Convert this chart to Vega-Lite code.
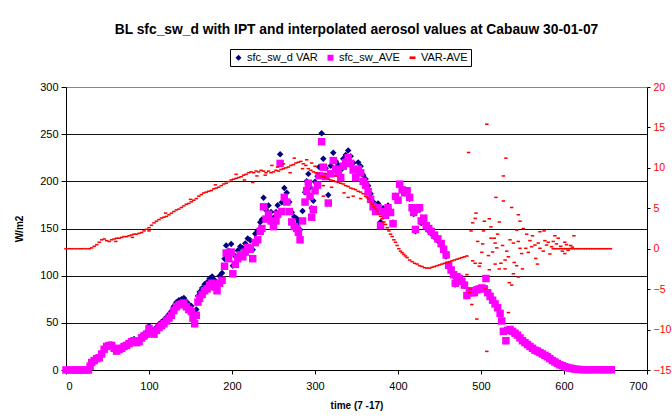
{
"$schema": "https://vega.github.io/schema/vega-lite/v6.json",
"width": 581, "height": 283,
"autosize": {"type": "none"},
"padding": {"left": 66, "top": 87, "right": 25, "bottom": 49},
"background": "white",
"config": {
  "font": "Liberation Sans",
  "view": {"stroke": null},
  "axis": {"labelFont": "Liberation Sans", "titleFont": "Liberation Sans", "labelFontSize": 11, "labelColor": "black", "titleColor": "black", "domainColor": "black", "tickColor": "black", "titleFontSize": 10, "titleFontWeight": "bold", "domainWidth": 1, "tickWidth": 1}
},
"title": {"text": "BL sfc_sw_d with IPT and interpolated aerosol values at Cabauw 30-01-07", "fontSize": 13.8, "fontWeight": "bold", "font": "Liberation Sans", "color": "black", "anchor": "middle", "offset": 12},
"datasets": {
"sw": [
{"t":0,"VAR":0,"AVE":0},{"t":4,"VAR":0,"AVE":0},{"t":8,"VAR":0,"AVE":0},{"t":12,"VAR":0,"AVE":0},{"t":16,"VAR":0,"AVE":0},{"t":20,"VAR":0,"AVE":0},{"t":24,"VAR":0,"AVE":0},{"t":27,"VAR":0,"AVE":0},
{"t":29,"VAR":4,"AVE":4},{"t":31,"VAR":8,"AVE":8},{"t":34,"VAR":10,"AVE":10},{"t":37,"VAR":12.5,"AVE":12},{"t":40,"VAR":13.7,"AVE":13},{"t":43,"VAR":17.8,"AVE":17},{"t":46,"VAR":22.9,"AVE":22},{"t":49,"VAR":26,"AVE":25},
{"t":52,"VAR":27,"AVE":26},{"t":55,"VAR":27,"AVE":26},{"t":58,"VAR":24,"AVE":23},{"t":61,"VAR":21,"AVE":20},{"t":64,"VAR":23.3,"AVE":22},{"t":67,"VAR":24.4,"AVE":23},{"t":70,"VAR":26.5,"AVE":25},{"t":73,"VAR":27.5,"AVE":26},
{"t":76,"VAR":29.6,"AVE":28},{"t":79,"VAR":31.7,"AVE":30},{"t":82,"VAR":32.8,"AVE":31},{"t":85,"VAR":30.8,"AVE":29},{"t":88,"VAR":31.9,"AVE":30},{"t":91,"VAR":36,"AVE":34},{"t":94,"VAR":38.2,"AVE":36},{"t":97,"VAR":40.4,"AVE":38},
{"t":100,"VAR":46.6,"AVE":44},{"t":103,"VAR":42.9,"AVE":40},{"t":106,"VAR":41.2,"AVE":38},{"t":109,"VAR":45.4,"AVE":42},{"t":112,"VAR":48.6,"AVE":45},{"t":115,"VAR":50.8,"AVE":47},{"t":118,"VAR":52.9,"AVE":49},{"t":121,"VAR":56,"AVE":52},
{"t":124,"VAR":59.2,"AVE":55},{"t":127,"VAR":62.4,"AVE":58},{"t":130,"VAR":67.6,"AVE":63},{"t":133,"VAR":71.8,"AVE":67},{"t":136,"VAR":73.9,"AVE":69},{"t":139,"VAR":75.1,"AVE":70},{"t":142,"VAR":76.3,"AVE":71},{"t":145,"VAR":72.5,"AVE":67},
{"t":148,"VAR":69.6,"AVE":64},{"t":151,"VAR":67.8,"AVE":62},{"t":153,"VAR":60.9,"AVE":55},{"t":155,"VAR":55,"AVE":49},{"t":157,"VAR":64.2,"AVE":58},{"t":159,"VAR":78.4,"AVE":72},{"t":161,"VAR":82.6,"AVE":76},{"t":164,"VAR":86.8,"AVE":80},
{"t":167,"VAR":90.9,"AVE":84},{"t":170,"VAR":93,"AVE":86},{"t":173,"VAR":97.1,"AVE":90},{"t":176,"VAR":99.2,"AVE":92},{"t":179,"VAR":95.4,"AVE":88},{"t":182,"VAR":91.5,"AVE":84},{"t":185,"VAR":99.6,"AVE":92},{"t":188,"VAR":102.8,"AVE":95},
{"t":191,"VAR":118,"AVE":110},{"t":193,"VAR":132.1,"AVE":124},{"t":196,"VAR":126.3,"AVE":118},{"t":199,"VAR":133.5,"AVE":125},{"t":201,"VAR":110.6,"AVE":102},{"t":204,"VAR":120.7,"AVE":112},{"t":207,"VAR":126.8,"AVE":118},{"t":210,"VAR":130.9,"AVE":122},
{"t":213,"VAR":129.1,"AVE":120},{"t":216,"VAR":134.2,"AVE":125},{"t":219,"VAR":139.4,"AVE":130},{"t":222,"VAR":137.5,"AVE":128},{"t":225,"VAR":127.5,"AVE":118},{"t":228,"VAR":144.5,"AVE":135},{"t":231,"VAR":147.6,"AVE":138},{"t":234,"VAR":156.6,"AVE":147},
{"t":236,"VAR":159.6,"AVE":150},{"t":238,"VAR":182.6,"AVE":173},{"t":241,"VAR":169.6,"AVE":160},{"t":244,"VAR":174.5,"AVE":165},{"t":247,"VAR":167.5,"AVE":158},{"t":250,"VAR":161.5,"AVE":152},{"t":253,"VAR":167.6,"AVE":158},{"t":255,"VAR":174.6,"AVE":165},
{"t":258,"VAR":228.7,"AVE":219},{"t":260,"VAR":177.8,"AVE":168},{"t":263,"VAR":192.9,"AVE":183},{"t":266,"VAR":188,"AVE":178},{"t":269,"VAR":178.1,"AVE":168},{"t":272,"VAR":167.3,"AVE":157},{"t":275,"VAR":162.4,"AVE":152},{"t":278,"VAR":160.5,"AVE":150},
{"t":280,"VAR":156.6,"AVE":146},{"t":282,"VAR":148.7,"AVE":138},{"t":285,"VAR":168.6,"AVE":158},{"t":288,"VAR":188.5,"AVE":178},{"t":290,"VAR":200.2,"AVE":190},{"t":292,"VAR":207.9,"AVE":198},{"t":294,"VAR":193.7,"AVE":184},{"t":296,"VAR":171.6,"AVE":162},
{"t":298,"VAR":179.5,"AVE":170},{"t":300,"VAR":199.5,"AVE":190},{"t":303,"VAR":205.3,"AVE":196},{"t":305,"VAR":215.2,"AVE":206},{"t":308,"VAR":251,"AVE":242},{"t":310,"VAR":223.9,"AVE":215},{"t":313,"VAR":213.8,"AVE":205},{"t":316,"VAR":185.6,"AVE":177},
{"t":319,"VAR":216.5,"AVE":208},{"t":322,"VAR":230.4,"AVE":222},{"t":325,"VAR":221.3,"AVE":213},{"t":328,"VAR":217.2,"AVE":209},{"t":331,"VAR":212.1,"AVE":204},{"t":334,"VAR":224,"AVE":216},{"t":337,"VAR":227.8,"AVE":220},{"t":340,"VAR":232.7,"AVE":225},
{"t":343,"VAR":226.5,"AVE":219},{"t":346,"VAR":219.4,"AVE":212},{"t":349,"VAR":211.3,"AVE":204},{"t":352,"VAR":220.1,"AVE":213},{"t":355,"VAR":216,"AVE":209},{"t":358,"VAR":206.8,"AVE":200},{"t":361,"VAR":202.5,"AVE":196},{"t":364,"VAR":195.2,"AVE":189},
{"t":367,"VAR":186.8,"AVE":181},{"t":370,"VAR":178.4,"AVE":173},{"t":373,"VAR":172.9,"AVE":168},{"t":376,"VAR":176.4,"AVE":172},{"t":379,"VAR":157,"AVE":153},{"t":382,"VAR":171.5,"AVE":168},{"t":385,"VAR":167,"AVE":164},{"t":388,"VAR":174.4,"AVE":172},
{"t":391,"VAR":168.8,"AVE":167},{"t":394,"VAR":156.3,"AVE":155},{"t":397,"VAR":184.8,"AVE":184},{"t":400,"VAR":180.2,"AVE":180},{"t":402,"VAR":196.8,"AVE":197},{"t":405,"VAR":190.5,"AVE":191},{"t":408,"VAR":187.2,"AVE":188},{"t":411,"VAR":188.9,"AVE":190},
{"t":414,"VAR":181.6,"AVE":183},{"t":417,"VAR":170.4,"AVE":172},{"t":419,"VAR":165.3,"AVE":167},{"t":421,"VAR":147.2,"AVE":149},{"t":423,"VAR":169.1,"AVE":171},{"t":426,"VAR":169.9,"AVE":172},{"t":428,"VAR":155.8,"AVE":158},{"t":431,"VAR":158.7,"AVE":161},
{"t":434,"VAR":150.6,"AVE":153},{"t":437,"VAR":147.6,"AVE":150},{"t":440,"VAR":144.7,"AVE":147},{"t":444,"VAR":140.8,"AVE":143},{"t":448,"VAR":137,"AVE":139},{"t":452,"VAR":132.1,"AVE":134},{"t":455,"VAR":126.2,"AVE":128},{"t":458,"VAR":120.3,"AVE":122},
{"t":461,"VAR":109.4,"AVE":111},{"t":464,"VAR":104.5,"AVE":106},{"t":467,"VAR":99.6,"AVE":101},{"t":469,"VAR":90.6,"AVE":92},{"t":471,"VAR":97.7,"AVE":99},{"t":474,"VAR":95.8,"AVE":97},{"t":477,"VAR":92.9,"AVE":94},{"t":480,"VAR":89,"AVE":90},
{"t":483,"VAR":78.1,"AVE":79},{"t":486,"VAR":83.5,"AVE":84},{"t":489,"VAR":81,"AVE":82},{"t":492,"VAR":82.5,"AVE":82},{"t":495,"VAR":84.2,"AVE":85},{"t":498,"VAR":85,"AVE":86},{"t":501,"VAR":86.5,"AVE":87},{"t":504,"VAR":85.5,"AVE":86},
{"t":506,"VAR":96.5,"AVE":97},{"t":508,"VAR":81.2,"AVE":82},{"t":511,"VAR":77.5,"AVE":78},{"t":514,"VAR":73.4,"AVE":74},{"t":517,"VAR":69.5,"AVE":70},{"t":520,"VAR":65.3,"AVE":66},{"t":523,"VAR":59.6,"AVE":60},{"t":525,"VAR":51.7,"AVE":52},
{"t":527,"VAR":40.8,"AVE":41},{"t":530,"VAR":30.5,"AVE":31},{"t":532,"VAR":41.7,"AVE":42},{"t":535,"VAR":42.6,"AVE":43},{"t":538,"VAR":40.5,"AVE":41},{"t":541,"VAR":38.6,"AVE":39},{"t":544,"VAR":36.6,"AVE":37},{"t":547,"VAR":33.7,"AVE":34},
{"t":550,"VAR":30.8,"AVE":31},{"t":553,"VAR":28.8,"AVE":29},{"t":556,"VAR":26.9,"AVE":27},{"t":559,"VAR":24.8,"AVE":25},{"t":562,"VAR":22.9,"AVE":23},{"t":565,"VAR":20.9,"AVE":21},{"t":568,"VAR":19.9,"AVE":20},{"t":571,"VAR":18.4,"AVE":18.5},
{"t":574,"VAR":16.9,"AVE":17},{"t":577,"VAR":15.4,"AVE":15.5},{"t":580,"VAR":13.9,"AVE":14},{"t":583,"VAR":11.9,"AVE":12},{"t":586,"VAR":10,"AVE":10},{"t":589,"VAR":8.5,"AVE":8.5},{"t":592,"VAR":7,"AVE":7},{"t":595,"VAR":5.5,"AVE":5.5},
{"t":598,"VAR":4.5,"AVE":4.5},{"t":601,"VAR":3.5,"AVE":3.5},{"t":604,"VAR":2.7,"AVE":2.7},{"t":607,"VAR":2,"AVE":2},{"t":610,"VAR":1.5,"AVE":1.5},{"t":613,"VAR":1,"AVE":1},{"t":617,"VAR":0.6,"AVE":0.6},{"t":621,"VAR":0.4,"AVE":0.4},
{"t":625,"VAR":0.3,"AVE":0.3},{"t":629,"VAR":0.3,"AVE":0.3},{"t":633,"VAR":0.3,"AVE":0.3},{"t":637,"VAR":0.3,"AVE":0.3},{"t":641,"VAR":0.3,"AVE":0.3},{"t":645,"VAR":0.3,"AVE":0.3},{"t":649,"VAR":0.3,"AVE":0.3},{"t":653,"VAR":0.3,"AVE":0.3},{"t":657,"VAR":0.3,"AVE":0.3}
],
"diff": [
{"t":0,"VAR-AVE":0},{"t":4,"VAR-AVE":0},{"t":8,"VAR-AVE":0},{"t":12,"VAR-AVE":0},{"t":16,"VAR-AVE":0},{"t":20,"VAR-AVE":0},{"t":24,"VAR-AVE":0},{"t":28,"VAR-AVE":0},
{"t":31,"VAR-AVE":0.1},{"t":34,"VAR-AVE":0.3},{"t":37,"VAR-AVE":0.5},{"t":40,"VAR-AVE":0.8},{"t":43,"VAR-AVE":1.1},{"t":46,"VAR-AVE":1.2},{"t":49,"VAR-AVE":1.0},{"t":52,"VAR-AVE":0.9},
{"t":55,"VAR-AVE":1.1},{"t":58,"VAR-AVE":1.2},{"t":61,"VAR-AVE":1.3},{"t":64,"VAR-AVE":1.3},{"t":67,"VAR-AVE":1.4},{"t":70,"VAR-AVE":1.5},{"t":73,"VAR-AVE":1.5},{"t":76,"VAR-AVE":1.6},
{"t":79,"VAR-AVE":1.7},{"t":82,"VAR-AVE":1.8},{"t":85,"VAR-AVE":1.8},{"t":88,"VAR-AVE":1.9},{"t":91,"VAR-AVE":2.0},{"t":94,"VAR-AVE":2.2},{"t":97,"VAR-AVE":2.4},{"t":100,"VAR-AVE":2.6},
{"t":103,"VAR-AVE":2.9},{"t":106,"VAR-AVE":3.2},{"t":109,"VAR-AVE":3.4},{"t":112,"VAR-AVE":3.6},{"t":115,"VAR-AVE":3.8},{"t":118,"VAR-AVE":3.9},{"t":121,"VAR-AVE":4.0},{"t":124,"VAR-AVE":4.2},
{"t":127,"VAR-AVE":4.4},{"t":130,"VAR-AVE":4.6},{"t":133,"VAR-AVE":4.8},{"t":136,"VAR-AVE":4.9},{"t":139,"VAR-AVE":5.1},{"t":142,"VAR-AVE":5.3},{"t":145,"VAR-AVE":5.5},{"t":148,"VAR-AVE":5.6},
{"t":151,"VAR-AVE":5.8},{"t":154,"VAR-AVE":6.0},{"t":157,"VAR-AVE":6.2},{"t":160,"VAR-AVE":6.5},{"t":163,"VAR-AVE":6.7},{"t":166,"VAR-AVE":6.9},{"t":169,"VAR-AVE":7.0},{"t":172,"VAR-AVE":7.1},
{"t":175,"VAR-AVE":7.2},{"t":178,"VAR-AVE":7.4},{"t":181,"VAR-AVE":7.5},{"t":184,"VAR-AVE":7.6},{"t":187,"VAR-AVE":7.8},{"t":190,"VAR-AVE":8.0},{"t":193,"VAR-AVE":8.1},{"t":196,"VAR-AVE":8.3},
{"t":199,"VAR-AVE":8.5},{"t":202,"VAR-AVE":8.6},{"t":205,"VAR-AVE":8.7},{"t":208,"VAR-AVE":8.8},{"t":211,"VAR-AVE":8.9},{"t":214,"VAR-AVE":9.1},{"t":217,"VAR-AVE":9.2},{"t":220,"VAR-AVE":9.4},
{"t":223,"VAR-AVE":9.5},{"t":226,"VAR-AVE":9.4},{"t":229,"VAR-AVE":9.6},{"t":232,"VAR-AVE":9.5},{"t":235,"VAR-AVE":9.7},{"t":238,"VAR-AVE":9.6},{"t":241,"VAR-AVE":9.4},{"t":244,"VAR-AVE":9.6},
{"t":247,"VAR-AVE":9.4},{"t":250,"VAR-AVE":9.5},{"t":253,"VAR-AVE":9.7},{"t":256,"VAR-AVE":9.6},{"t":259,"VAR-AVE":9.8},{"t":262,"VAR-AVE":9.9},{"t":265,"VAR-AVE":10.0},{"t":268,"VAR-AVE":10.1},
{"t":271,"VAR-AVE":10.3},{"t":274,"VAR-AVE":10.4},{"t":277,"VAR-AVE":10.6},{"t":280,"VAR-AVE":10.7},{"t":283,"VAR-AVE":10.8},{"t":286,"VAR-AVE":10.5},{"t":289,"VAR-AVE":10.3},{"t":292,"VAR-AVE":9.9},
{"t":295,"VAR-AVE":9.7},{"t":298,"VAR-AVE":9.5},{"t":301,"VAR-AVE":9.4},{"t":304,"VAR-AVE":9.3},{"t":307,"VAR-AVE":9.0},{"t":310,"VAR-AVE":8.9},{"t":313,"VAR-AVE":8.8},{"t":316,"VAR-AVE":8.6},
{"t":319,"VAR-AVE":8.5},{"t":322,"VAR-AVE":8.4},{"t":325,"VAR-AVE":8.3},{"t":328,"VAR-AVE":8.2},{"t":331,"VAR-AVE":8.1},{"t":334,"VAR-AVE":8.0},{"t":337,"VAR-AVE":7.8},{"t":340,"VAR-AVE":7.7},
{"t":343,"VAR-AVE":7.5},{"t":346,"VAR-AVE":7.4},{"t":349,"VAR-AVE":7.3},{"t":352,"VAR-AVE":7.1},{"t":355,"VAR-AVE":7.0},{"t":358,"VAR-AVE":6.8},{"t":361,"VAR-AVE":6.5},{"t":363,"VAR-AVE":6.3},
{"t":365,"VAR-AVE":6.1},{"t":367,"VAR-AVE":5.8},{"t":369,"VAR-AVE":5.5},{"t":371,"VAR-AVE":5.2},{"t":373,"VAR-AVE":4.9},{"t":375,"VAR-AVE":4.6},{"t":377,"VAR-AVE":4.3},{"t":379,"VAR-AVE":4.0},
{"t":381,"VAR-AVE":3.7},{"t":383,"VAR-AVE":3.3},{"t":385,"VAR-AVE":3.0},{"t":387,"VAR-AVE":2.6},{"t":389,"VAR-AVE":2.2},{"t":391,"VAR-AVE":1.8},{"t":393,"VAR-AVE":1.5},{"t":395,"VAR-AVE":1.1},
{"t":397,"VAR-AVE":0.8},{"t":399,"VAR-AVE":0.4},{"t":401,"VAR-AVE":0.0},{"t":403,"VAR-AVE":-0.3},{"t":405,"VAR-AVE":-0.5},{"t":407,"VAR-AVE":-0.7},{"t":409,"VAR-AVE":-0.9},{"t":411,"VAR-AVE":-1.1},
{"t":414,"VAR-AVE":-1.4},{"t":417,"VAR-AVE":-1.6},{"t":420,"VAR-AVE":-1.8},{"t":423,"VAR-AVE":-1.9},{"t":426,"VAR-AVE":-2.1},{"t":429,"VAR-AVE":-2.2},{"t":432,"VAR-AVE":-2.35},{"t":435,"VAR-AVE":-2.4},
{"t":438,"VAR-AVE":-2.4},{"t":441,"VAR-AVE":-2.3},{"t":444,"VAR-AVE":-2.2},{"t":447,"VAR-AVE":-2.1},{"t":450,"VAR-AVE":-2.0},{"t":453,"VAR-AVE":-1.9},{"t":456,"VAR-AVE":-1.8},{"t":459,"VAR-AVE":-1.7},
{"t":462,"VAR-AVE":-1.6},{"t":465,"VAR-AVE":-1.5},{"t":468,"VAR-AVE":-1.4},{"t":471,"VAR-AVE":-1.3},{"t":474,"VAR-AVE":-1.2},{"t":477,"VAR-AVE":-1.1},{"t":480,"VAR-AVE":-1.0},{"t":483,"VAR-AVE":-0.9},
{"t":225,"VAR-AVE":8.2},{"t":230,"VAR-AVE":9.0},{"t":248,"VAR-AVE":10.3},{"t":262,"VAR-AVE":10.5},{"t":275,"VAR-AVE":11.2},{"t":290,"VAR-AVE":11.0},{"t":296,"VAR-AVE":10.6},{"t":300,"VAR-AVE":10.2},
{"t":310,"VAR-AVE":7.8},{"t":312,"VAR-AVE":9.3},{"t":320,"VAR-AVE":7.6},{"t":325,"VAR-AVE":9.0},{"t":335,"VAR-AVE":6.9},{"t":340,"VAR-AVE":6.35},{"t":346,"VAR-AVE":6.5},{"t":355,"VAR-AVE":6.2},
{"t":310,"VAR-AVE":6.5},{"t":215,"VAR-AVE":8.5},{"t":205,"VAR-AVE":9.2},{"t":180,"VAR-AVE":7.9},{"t":150,"VAR-AVE":6.1},{"t":120,"VAR-AVE":4.4},{"t":100,"VAR-AVE":2.2},{"t":80,"VAR-AVE":1.4},
{"t":60,"VAR-AVE":0.9},{"t":270,"VAR-AVE":9.4},{"t":285,"VAR-AVE":9.9},{"t":240,"VAR-AVE":9.1},{"t":255,"VAR-AVE":10.1},
{"t":507,"VAR-AVE":15.4},{"t":485,"VAR-AVE":11.9},{"t":530,"VAR-AVE":11.2},{"t":527,"VAR-AVE":9.0},{"t":518,"VAR-AVE":6.35},{"t":527,"VAR-AVE":5.9},{"t":537,"VAR-AVE":5.1},{"t":545,"VAR-AVE":4.2},
{"t":494,"VAR-AVE":4.4},{"t":493,"VAR-AVE":3.75},{"t":490,"VAR-AVE":3.2},{"t":510,"VAR-AVE":3.7},{"t":504,"VAR-AVE":3.4},{"t":522,"VAR-AVE":3.3},{"t":547,"VAR-AVE":3.4},{"t":512,"VAR-AVE":2.7},
{"t":488,"VAR-AVE":2.2},{"t":503,"VAR-AVE":2.2},{"t":543,"VAR-AVE":2.3},{"t":551,"VAR-AVE":2.5},{"t":571,"VAR-AVE":2.1},{"t":576,"VAR-AVE":2.2},{"t":520,"VAR-AVE":1.8},{"t":555,"VAR-AVE":1.8},
{"t":562,"VAR-AVE":1.6},{"t":512,"VAR-AVE":1.3},{"t":516,"VAR-AVE":1.3},{"t":535,"VAR-AVE":1.1},{"t":589,"VAR-AVE":1.6},{"t":612,"VAR-AVE":1.6},{"t":593,"VAR-AVE":1.3},{"t":502,"VAR-AVE":0.6},
{"t":517,"VAR-AVE":0.7},{"t":539,"VAR-AVE":0.7},{"t":569,"VAR-AVE":0.7},{"t":601,"VAR-AVE":0.8},{"t":519,"VAR-AVE":0.1},{"t":547,"VAR-AVE":0.05},{"t":554,"VAR-AVE":0.05},{"t":561,"VAR-AVE":0.25},
{"t":565,"VAR-AVE":0.45},{"t":579,"VAR-AVE":0.45},{"t":585,"VAR-AVE":0.25},{"t":501,"VAR-AVE":-0.45},{"t":509,"VAR-AVE":-0.85},{"t":549,"VAR-AVE":-0.6},{"t":557,"VAR-AVE":-0.45},{"t":571,"VAR-AVE":0.05},
{"t":583,"VAR-AVE":-0.65},{"t":601,"VAR-AVE":-0.6},{"t":533,"VAR-AVE":-1.0},{"t":490,"VAR-AVE":-1.5},{"t":493,"VAR-AVE":-1.8},{"t":499,"VAR-AVE":-1.8},{"t":498,"VAR-AVE":-2.15},{"t":524,"VAR-AVE":-1.8},
{"t":529,"VAR-AVE":-1.4},{"t":517,"VAR-AVE":-1.9},{"t":540,"VAR-AVE":-1.7},{"t":543,"VAR-AVE":-2.1},{"t":550,"VAR-AVE":-2.5},{"t":568,"VAR-AVE":-1.9},{"t":510,"VAR-AVE":-2.6},{"t":522,"VAR-AVE":-2.5},
{"t":529,"VAR-AVE":-2.5},{"t":539,"VAR-AVE":-3.1},{"t":545,"VAR-AVE":-3.5},{"t":483,"VAR-AVE":-3.2},{"t":534,"VAR-AVE":-4.2},{"t":537,"VAR-AVE":-4.5},{"t":487,"VAR-AVE":-5.0},{"t":486,"VAR-AVE":-5.4},
{"t":505,"VAR-AVE":-5.0},{"t":489,"VAR-AVE":-6.9},{"t":495,"VAR-AVE":-8.7},{"t":533,"VAR-AVE":-7.9},{"t":507,"VAR-AVE":-12.7},
{"t":596,"VAR-AVE":0.3},{"t":605,"VAR-AVE":-0.2},{"t":608,"VAR-AVE":0.4},{"t":598,"VAR-AVE":-0.3},{"t":591,"VAR-AVE":0.6},{"t":603,"VAR-AVE":0.5},{"t":610,"VAR-AVE":0.2},{"t":587,"VAR-AVE":0.9},
{"t":581,"VAR-AVE":0.8},{"t":575,"VAR-AVE":-0.3},{"t":577,"VAR-AVE":1.0},{"t":559,"VAR-AVE":1.0},{"t":566,"VAR-AVE":-1.2},{"t":545,"VAR-AVE":0.9},{"t":526,"VAR-AVE":0.4},{"t":531,"VAR-AVE":-0.3},
{"t":514,"VAR-AVE":-0.4},{"t":496,"VAR-AVE":0.9},
{"t":587,"VAR-AVE":0},{"t":590,"VAR-AVE":0},{"t":593,"VAR-AVE":0},{"t":596,"VAR-AVE":0},{"t":599,"VAR-AVE":0},{"t":602,"VAR-AVE":0},{"t":605,"VAR-AVE":0},{"t":608,"VAR-AVE":0},
{"t":611,"VAR-AVE":0},{"t":614,"VAR-AVE":0},{"t":617,"VAR-AVE":0},{"t":620,"VAR-AVE":0},{"t":623,"VAR-AVE":0},{"t":626,"VAR-AVE":0},{"t":629,"VAR-AVE":0},{"t":632,"VAR-AVE":0},
{"t":635,"VAR-AVE":0},{"t":638,"VAR-AVE":0},{"t":641,"VAR-AVE":0},{"t":644,"VAR-AVE":0},{"t":647,"VAR-AVE":0},{"t":650,"VAR-AVE":0},{"t":653,"VAR-AVE":0},{"t":656,"VAR-AVE":0}
]
},
"layer": [
  {
    "layer": [
      {
        "data": {"name": "sw"},
        "transform": [{"fold": ["VAR"], "as": ["series", "v"]}],
        "mark": {"type": "point", "filled": true, "size": 42, "opacity": 1},
        "encoding": {
          "x": {"field": "t", "type": "quantitative", "scale": {"domain": [0, 700], "nice": false}, "axis": {"values": [0,100,200,300,400,500,600,700], "title": "time (7 -17)", "grid": false, "tickSize": 4, "labelPadding": 6, "titlePadding": 9}},
          "y": {"field": "v", "type": "quantitative", "scale": {"domain": [0, 300], "nice": false}, "axis": {"values": [0,50,100,150,200,250,300], "title": "W/m2", "grid": true, "gridColor": {"condition": {"test": "datum.value === 300", "value": "#888888"}, "value": "#111111"}, "tickSize": 5, "labelPadding": 3, "titlePadding": 15}},
          "color": {"field": "series", "type": "nominal", "scale": {"domain": ["VAR", "AVE", "VAR-AVE"], "range": ["#000080", "#FF00FF", "#FF0000"]}, "legend": {"orient": "none", "legendX": 164, "legendY": -38, "direction": "horizontal", "title": null, "strokeColor": "black", "fillColor": "white", "padding": 3, "labelFontSize": 11, "labelFont": "Liberation Sans", "labelColor": "black", "symbolSize": 36, "columnPadding": 7, "labelOffset": 3, "labelExpr": "datum.label === 'VAR' ? 'sfc_sw_d VAR' : datum.label === 'AVE' ? 'sfc_sw_AVE' : 'VAR-AVE'"}},
          "shape": {"field": "series", "type": "nominal", "scale": {"domain": ["VAR", "AVE", "VAR-AVE"], "range": ["diamond", "square", "M-1,-0.45L1,-0.45L1,0.45L-1,0.45Z"]}, "legend": {"orient": "none", "legendX": 164, "legendY": -38, "direction": "horizontal", "title": null, "strokeColor": "black", "fillColor": "white", "padding": 3, "labelFontSize": 11, "labelFont": "Liberation Sans", "labelColor": "black", "symbolSize": 36, "columnPadding": 7, "labelOffset": 3, "labelExpr": "datum.label === 'VAR' ? 'sfc_sw_d VAR' : datum.label === 'AVE' ? 'sfc_sw_AVE' : 'VAR-AVE'"}}
        }
      },
      {
        "data": {"name": "sw"},
        "transform": [{"fold": ["AVE"], "as": ["series", "v"]}],
        "mark": {"type": "point", "filled": true, "size": 56, "opacity": 1},
        "encoding": {
          "x": {"field": "t", "type": "quantitative"},
          "y": {"field": "v", "type": "quantitative"},
          "color": {"field": "series", "type": "nominal"},
          "shape": {"field": "series", "type": "nominal"}
        }
      }
    ]
  },
  {
    "data": {"name": "diff"},
    "transform": [{"fold": ["VAR-AVE"], "as": ["series", "v"]}],
    "mark": {"type": "point", "filled": true, "size": 12, "opacity": 1},
    "encoding": {
      "x": {"field": "t", "type": "quantitative"},
      "y": {"field": "v", "type": "quantitative", "scale": {"domain": [-15, 20], "nice": false}, "axis": {"orient": "right", "values": [-15,-10,-5,0,5,10,15,20], "title": null, "grid": false, "labelColor": "#FF0000", "labelFontSize": 10.5, "tickSize": 3, "labelPadding": 3}},
      "color": {"field": "series", "type": "nominal"},
      "shape": {"field": "series", "type": "nominal"}
    }
  }
],
"resolve": {"scale": {"y": "independent"}}
}
